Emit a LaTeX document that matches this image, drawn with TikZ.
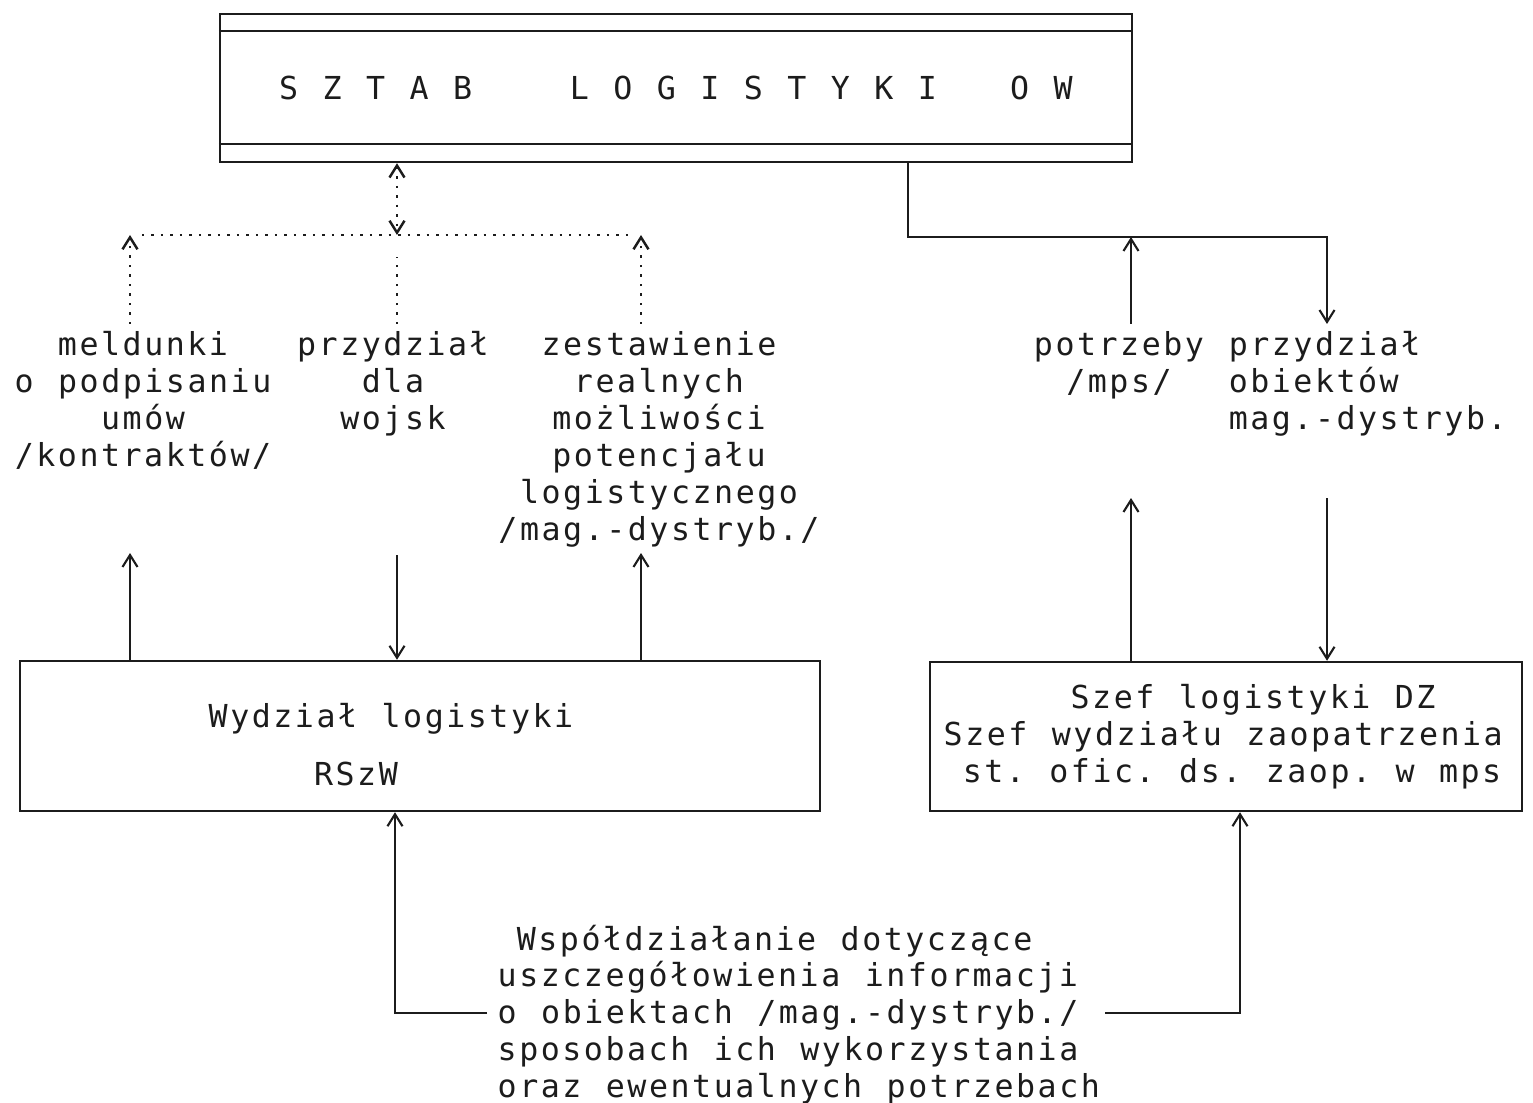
\documentclass[tikz,border=0pt]{standalone}
\usepackage{fontspec}
\usepackage{tikz}
\usetikzlibrary{arrows.meta, positioning, calc}
\newfontfamily\dotfont[LetterSpace=8, WordSpace=1.133]{DejaVu Sans Mono}
\frenchspacing
\definecolor{ink}{HTML}{1C1C1C}
\tikzset{
  sbox/.style={draw=ink, line width=0.7pt, inner sep=0pt},
  lbl/.style={text=ink, font=\dotfont\fontsize{9pt}{10.5pt}\selectfont, inner sep=2pt},
  arr/.style={->, ink, line width=0.6pt},
  dotarr/.style={ink, dotted, line width=0.7pt},
}

\begin{document}
\begin{tikzpicture}[>={Straight Barb[length=1.2mm,width=1.5mm]}]
  \useasboundingbox (0,0) rectangle (15.33,11.02);

  %% -- top box --
  \node[sbox, lbl, minimum width=9.12cm, minimum height=1.48cm] (sztab) at (6.76,10.14)
    {S Z T A B\ \ \ \ L O G I S T Y K I\ \ \ O W};
  \draw[ink, line width=0.7pt] ([yshift=-0.18cm]sztab.north west) -- ([yshift=-0.18cm]sztab.north east);
  \draw[ink, line width=0.7pt] ([yshift=0.19cm]sztab.south west) -- ([yshift=0.19cm]sztab.south east);

  %% -- lower boxes --
  \node[sbox, minimum width=8cm, minimum height=1.5cm] (rszw) at (4.20,3.66) {};
  \node[sbox, minimum width=5.92cm, minimum height=1.49cm] (dz) at (12.26,3.655) {};
  \node[lbl, align=left, anchor=north west] (rszwtxt) at (2.01,4.06)
    {Wydział logistyki\\[6.0pt]\hphantom{xxxxx}RSzW};
  \node[lbl, align=left, anchor=north west] (dztxt) at (9.36,4.25)
    {\hphantom{xxxxxx}Szef logistyki DZ\\Szef wydziału zaopatrzenia\\\hphantom{x}st. ofic. ds. zaop. w mps};

  %% -- labels --
  \node[lbl, align=center, anchor=north] (meld) at (1.43,7.78) {meldunki\\o podpisaniu\\umów\\/kontraktów/};
  \node[lbl, align=center, anchor=north] (przyd) at (3.93,7.78) {przydział\\dla\\wojsk};
  \node[lbl, align=center, anchor=north] (zest) at (6.59,7.78)
    {zestawienie\\realnych\\możliwości\\potencjału\\logistycznego\\/mag.-dystryb./};
  \node[lbl, align=center, anchor=north] (potrz) at (11.19,7.78) {potrzeby\\/mps/};
  \node[lbl, align=left, anchor=north west] (obiekt) at (12.21,7.78) {przydział\\obiektów\\mag.-dystryb.};
  \node[lbl, align=left, anchor=north west] (wspol) at (4.90,1.85)
    {\hphantom{x}Współdziałanie dotyczące\\uszczegółowienia informacji\\o obiektach /mag.-dystryb./\\sposobach ich wykorzystania\\oraz ewentualnych potrzebach};

  %% -- dotted connectors --
  \coordinate (jL) at (3.97,8.67);
  \coordinate (aL) at (1.30,8.67);
  \coordinate (aR) at (6.41,8.67);
  \coordinate (mid) at (3.97,8.45);
  \draw[dotarr, <->] (sztab.south -| jL) -- (jL);
  \draw[dotarr, shorten <=0.12cm, shorten >=0.12cm] (aL) -- (aR);
  \draw[dotarr, ->] (meld.north -| aL) -- (aL);
  \draw[dotarr, ->] (zest.north -| aR) -- (aR);
  \draw[dotarr] (przyd.north -| mid) -- (mid);

  %% -- right connectors --
  \coordinate (dR) at (9.08,8.65);
  \coordinate (jP) at (11.31,8.65);
  \coordinate (kR) at (13.27,8.65);
  \draw[arr] (sztab.south -| dR) -- (dR) -- (kR) -- (obiekt.north -| kR);
  \draw[arr] (potrz.north -| jP) -- (jP);

  %% -- arrows at lower boxes --
  \coordinate (uL) at (1.30,5.49);
  \coordinate (uM) at (3.97,5.47);
  \coordinate (uR) at (6.41,5.49);
  \coordinate (uP) at (11.31,6.04);
  \coordinate (uK) at (13.27,6.04);
  \draw[arr] (rszw.north -| uL) -- (uL);
  \draw[arr] (uM) -- (rszw.north -| uM);
  \draw[arr] (rszw.north -| uR) -- (uR);
  \draw[arr] (dz.north -| uP) -- (uP);
  \draw[arr] (uK) -- (dz.north -| uK);

  %% -- bottom --
  \coordinate (bL) at (4.87,0.89);
  \coordinate (cL) at (3.95,0.89);
  \coordinate (bR) at (11.05,0.89);
  \coordinate (cR) at (12.40,0.89);
  \draw[arr] (bL) -- (cL) -- (rszw.south -| cL);
  \draw[arr] (bR) -- (cR) -- (dz.south -| cR);
\end{tikzpicture}
\end{document}
